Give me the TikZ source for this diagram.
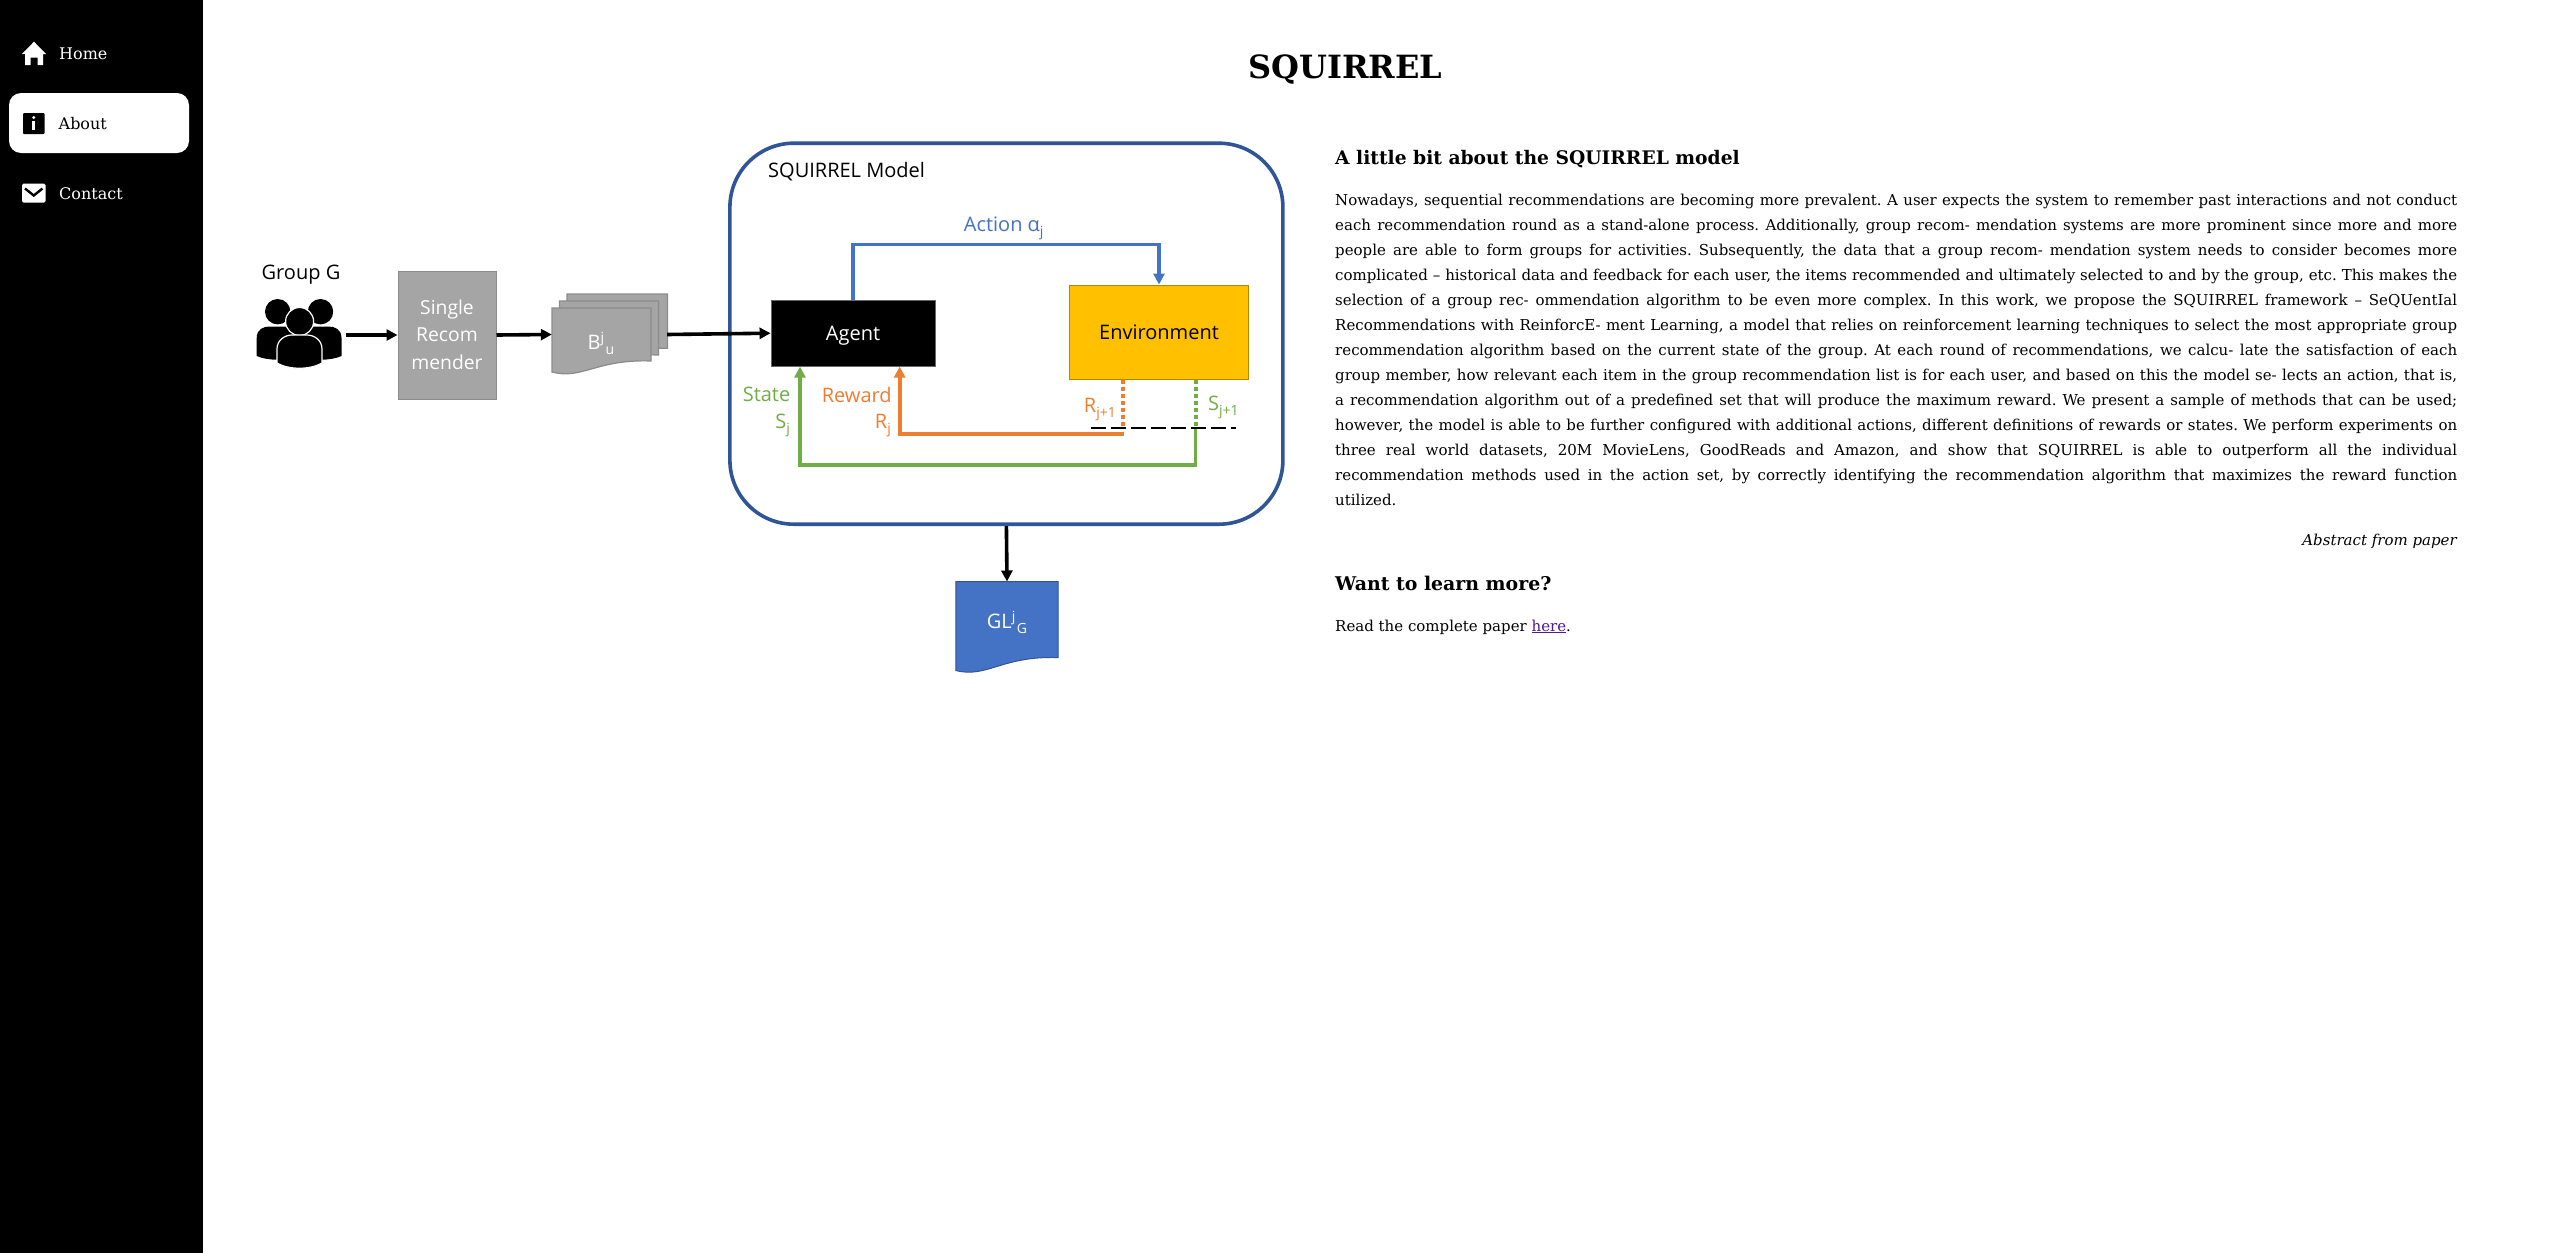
\documentclass[tikz,border=0pt]{standalone}
\usepackage{fontspec}
\setmainfont{DejaVu Serif}
\newfontfamily\figfont{Open Sans}
\usetikzlibrary{arrows.meta}
\frenchspacing
\definecolor{modelblue}{HTML}{2F5597}
\definecolor{actionblue}{HTML}{4472C4}
\definecolor{rewardorange}{HTML}{ED7D31}
\definecolor{stategreen}{HTML}{70AD47}
\definecolor{envyellow}{HTML}{FFC000}
\definecolor{docgrey}{HTML}{A5A5A5}
\definecolor{linkpurple}{HTML}{551A8B}
\newcommand{\fsize}[1]{\fontsize{#1}{#1}\selectfont}
\newcommand{\lowtxt}[1]{\smash{\raisebox{-5pt}{\fsize{14}#1}}}
\newcommand{\hightxt}[1]{\smash{\raisebox{7pt}{\fsize{14}#1}}}
\newcommand{\docpath}[5]{(#1,#3) -- (#2,#3) -- (#2,#4) .. controls (#1*0.55+#2*0.45,#4-2) and (#1*0.7+#2*0.3,#5+8) .. (#1,#5) -- cycle}
\tikzset{
	navtext/.style={anchor=base west,inner sep=0pt,font=\fsize{16}},
	bodytext/.style={anchor=base west,inner sep=0pt,font=\fsize{15}},
	headtext/.style={anchor=base west,inner sep=0pt,font=\bfseries\fsize{18.7}},
	figlabel/.style={inner sep=0pt,font=\figfont\fsize{20}},
	greybox/.style={draw=black!45,fill=docgrey,line width=1pt,text=white,align=center},
	docsheet/.style={draw=black!45,fill=docgrey,line width=1.2pt},
	arrowline/.style={->,line width=3.6pt},
}
\begin{document}
\begin{tikzpicture}[x=1pt,y=-1pt,>={Triangle[length=11pt,width=11pt]},line join=miter]
	\useasboundingbox (0,0) rectangle (2549,1253);
	\fill[white] (0,0) rectangle (2549,1253);
	% side bar
	\fill[black] (0,0) rectangle (203,1253);
	\fill[white,rounded corners=12pt] (9,93) rectangle (189,153);
	\fill[white] (34,41.7) -- (46,54) -- (43,54) -- (43,65) -- (37.5,65) -- (37.5,57.5) -- (30.5,57.5) -- (30.5,65) -- (25,65) -- (25,54) -- (22,54) -- cycle;
	\fill[black,rounded corners=1pt] (23,113) rectangle (44.6,134);
	\fill[white] (33.8,117.5) circle (1.6pt);
	\fill[white] (32.4,121) rectangle (35.2,130);
	\fill[white,rounded corners=1.5pt] (22,183.7) rectangle (45.5,202.7);
	\draw[black,line width=2.4pt] (25,188.5) -- (33.8,195.5) -- (42.5,188.5);
	\node[navtext,text=white] (home) at (59,59) {Home};
	\node[navtext,text=black] (about) at (58.5,129) {About};
	\node[navtext,text=white] (contact) at (59,199) {Contact};
	% page text
	\node[inner sep=0pt,font=\bfseries\fsize{32}] (title) at (1345.5,70) {SQUIRREL};
	\node[headtext] (aboutmodel) at (1335,164) {A little bit about the SQUIRREL model};
	\foreach \ln [count=\k from 0] in {
		{Nowadays, sequential recommendations are becoming more prevalent. A user expects the system to remember past interactions and not conduct},
		{each recommendation round as a stand-alone process. Additionally, group recom- mendation systems are more prominent since more and more},
		{people are able to form groups for activities. Subsequently, the data that a group recom- mendation system needs to consider becomes more},
		{complicated -- historical data and feedback for each user, the items recommended and ultimately selected to and by the group, etc. This makes the},
		{selection of a group rec- ommendation algorithm to be even more complex. In this work, we propose the SQUIRREL framework -- SeQUentIal},
		{Recommendations with ReinforcE- ment Learning, a model that relies on reinforcement learning techniques to select the most appropriate group},
		{recommendation algorithm based on the current state of the group. At each round of recommendations, we calcu- late the satisfaction of each},
		{group member, how relevant each item in the group recommendation list is for each user, and based on this the model se- lects an action, that is,},
		{a recommendation algorithm out of a predefined set that will produce the maximum reward. We present a sample of methods that can be used;},
		{however, the model is able to be further configured with additional actions, different definitions of rewards or states. We perform experiments on},
		{three real world datasets, 20M MovieLens, GoodReads and Amazon, and show that SQUIRREL is able to outperform all the individual},
		{recommendation methods used in the action set, by correctly identifying the recommendation algorithm that maximizes the reward function}}
	{
		\node[bodytext] (line\k) at (1335,205+25*\k) {\hbox to 1122pt{\ln}};
	}
	\node[bodytext] (lastline) at (1335,505) {utilized.};
	\node[bodytext,anchor=base east,font=\itshape\fsize{15}] (source) at (2457,545) {Abstract from paper};
	\node[headtext,font=\bfseries\fsize{18.9}] (learnmore) at (1335,590) {Want to learn more?};
	\node[bodytext] (readpaper) at (1335,631) {Read the complete paper \textcolor{linkpurple}{\underline{here}}.};
	% group and recommender
	\node[figlabel] (group) at (301,274.5) {Group G};
	\foreach \px in {277.7,320.5}
	{
		\fill[black] (\px,311.7) circle (12.7pt);
		\fill[black] (\px-21,356) -- (\px-21,338) .. controls (\px-21,329) and (\px-14,326.5) .. (\px-8,326.5) -- (\px+8,326.5) .. controls (\px+14,326.5) and (\px+21,329) .. (\px+21,338) -- (\px+21,356) .. controls (\px+10,361) and (\px-10,361) .. (\px-21,356) -- cycle;
	}
	\filldraw[black,draw=white,line width=1.2pt] (299.6,321.5) circle (14pt);
	\filldraw[black,draw=white,line width=1.2pt] (277,363) -- (277,349) .. controls (277,340) and (285,335) .. (292,335) -- (307,335) .. controls (314,335) and (322,340) .. (322,349) -- (322,363) .. controls (310,370) and (289,370) .. (277,363) -- cycle;
	\coordinate (groupout) at (346,335);
	\node[greybox,minimum width=98pt,minimum height=128pt,inner sep=0pt,font=\figfont\fsize{19.3},text depth=1pt] (recom) at (447,335) {Single\\[8pt]Recom\\[8pt]mender};
	% stack of lists
	\draw[docsheet] \docpath{567}{667.4}{294}{348.3}{362};
	\draw[docsheet] \docpath{559.4}{658.5}{301}{355}{369};
	\draw[docsheet] \docpath{552}{651}{308}{361}{372};
	\node[inner sep=0pt,minimum width=115pt,minimum height=81pt] (lists) at (609.5,334.5) {};
	\node[figlabel,text=white] (listlabel) at (601,342) {B\hightxt{j}\kern1.5pt\lowtxt{u}};
	% model box
	\node[draw=modelblue,line width=3.6pt,rounded corners=64pt,minimum width=553pt,minimum height=381pt,inner sep=0pt] (model) at (1006.4,333.7) {};
	\node[figlabel,anchor=west] (modellabel) at (768,172) {SQUIRREL Model};
	\node[draw=black!60,fill=black,text=white,figlabel,text height=14pt,text depth=0pt,minimum width=164.5pt,minimum height=66.4pt] (agent) at (853,333.2) {Agent};
	\node[draw=envyellow!70!black,fill=envyellow,figlabel,line width=1pt,minimum width=178.7pt,minimum height=94.7pt] (env) at (1159,332.4) {Environment};
	% loop
	\draw[arrowline,actionblue] (agent.north) -- ++(0,-55.5) -| (env.north);
	\node[figlabel,text=actionblue] (actionlabel) at (1003.7,224.5) {Action α\lowtxt{j}};
	\coordinate (rbase) at (1124,433.7);
	\coordinate (rturn) at (899.7,433.7);
	\coordinate (rdot) at (1123,427.8);
	\coordinate (sbase) at (1195.5,427.8);
	\coordinate (sturn) at (800,464.8);
	\draw[line width=4pt,rewardorange,dash pattern=on 3.5pt off 3.5pt] (rdot |- env.south) -- (rdot);
	\draw[line width=4pt,stategreen,dash pattern=on 3.5pt off 3.5pt] (sbase |- env.south) -- (sbase);
	\draw[arrowline,rewardorange] (rbase) -- (rturn) -- (rturn |- agent.south);
	\draw[arrowline,stategreen] (sbase) |- (sturn) -- (sturn |- agent.south);
	\coordinate (dashl) at (1090.7,427.8);
	\coordinate (dashr) at (1236,427.8);
	\draw[line width=1.6pt,dash pattern=on 15pt off 5pt] (dashl) -- (dashr);
	\node[figlabel,text=stategreen] (statelabel) at (766.5,394.5) {State};
	\node[figlabel,text=stategreen,anchor=east] (snow) at (790,421.5) {S\lowtxt{j}};
	\node[figlabel,text=rewardorange] (rewardlabel) at (856.7,394.5) {Reward};
	\node[figlabel,text=rewardorange,anchor=east] (rnow) at (891,421.5) {R\lowtxt{j}};
	\node[figlabel,text=rewardorange,anchor=east] (rnext) at (1116,405) {R\lowtxt{j+1}};
	\node[figlabel,text=stategreen,anchor=west] (snext) at (1208,403) {S\lowtxt{j+1}};
	% group list
	\begin{scope}
		\clip (940,570) rectangle (1070,673);
		\draw[draw=modelblue,fill=actionblue,line width=1pt] \docpath{955.8}{1058.2}{581.7}{657.6}{670.5};
	\end{scope}
	\node[inner sep=0pt,minimum width=102.4pt,minimum height=91pt] (glist) at (1007,627.2) {};
	\node[figlabel,text=white] (gllabel) at (1007,621) {GL\hightxt{j}\kern1.5pt\lowtxt{G}};
	% arrows between the blocks
	\draw[arrowline] (groupout) -- (recom.west);
	\draw[arrowline] (recom.east) -- (lists.west);
	\draw[arrowline] (lists.east) -- (agent.west);
	\draw[arrowline] (model.south) -- (glist.north);
\end{tikzpicture}
\end{document}
